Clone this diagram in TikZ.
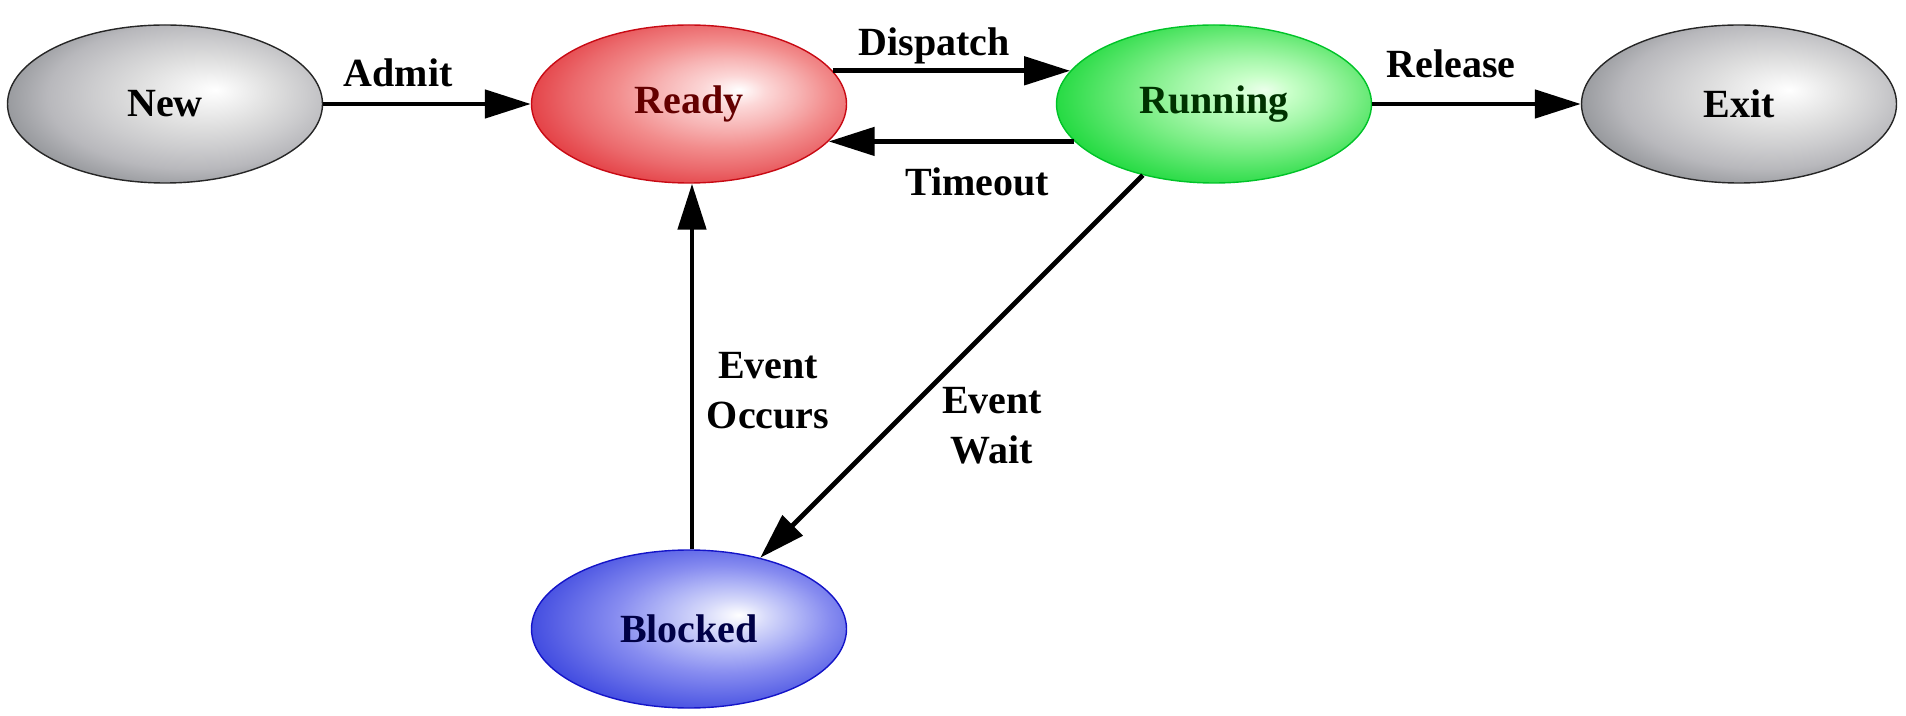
\documentclass[tikz,border=0pt]{standalone}
\usepackage{fontspec}
\setmainfont{Liberation Serif}
\usetikzlibrary{arrows.meta,shapes.geometric}

% Farben
\definecolor{gryA}{RGB}{240,240,240}
\definecolor{gryB}{RGB}{222,222,222}
\definecolor{gryC}{RGB}{204,204,206}
\definecolor{gryD}{RGB}{184,184,188}
\definecolor{gryE}{RGB}{150,152,156}
\definecolor{gryF}{RGB}{106,110,114}
\definecolor{redA}{RGB}{252,215,215}
\definecolor{redB}{RGB}{247,180,180}
\definecolor{redC}{RGB}{242,140,140}
\definecolor{redD}{RGB}{235,105,108}
\definecolor{redE}{RGB}{228,65,70}
\definecolor{redF}{RGB}{220,35,45}
\definecolor{grnO}{RGB}{235,255,235}
\definecolor{grnA}{RGB}{200,255,200}
\definecolor{grnB}{RGB}{165,247,170}
\definecolor{grnC}{RGB}{125,238,135}
\definecolor{grnD}{RGB}{80,228,100}
\definecolor{grnE}{RGB}{35,218,65}
\definecolor{grnF}{RGB}{15,210,50}
\definecolor{bluA}{RGB}{215,218,250}
\definecolor{bluB}{RGB}{175,180,246}
\definecolor{bluC}{RGB}{135,140,240}
\definecolor{bluD}{RGB}{100,108,232}
\definecolor{bluE}{RGB}{65,75,224}
\definecolor{bluF}{RGB}{40,50,215}
\definecolor{redline}{RGB}{200,10,20}
\definecolor{grnline}{RGB}{0,195,40}
\definecolor{bluline}{RGB}{20,20,200}
\definecolor{redtext}{RGB}{100,0,0}
\definecolor{grntext}{RGB}{0,50,0}
\definecolor{blutext}{RGB}{0,0,70}

\pgfdeclareradialshading{greyglow}{\pgfpoint{8bp}{4.5bp}}{color(0bp)=(white); color(5bp)=(gryA); color(11bp)=(gryB); color(17bp)=(gryC); color(23bp)=(gryD); color(29bp)=(gryE); color(34bp)=(gryF); color(50bp)=(gryF)}
\pgfdeclareradialshading{redglow}{\pgfpoint{8bp}{4.5bp}}{color(0bp)=(white); color(5bp)=(redA); color(11bp)=(redB); color(17bp)=(redC); color(23bp)=(redD); color(29bp)=(redE); color(34bp)=(redF); color(50bp)=(redF)}
\pgfdeclareradialshading{greenglow}{\pgfpoint{8bp}{4.5bp}}{color(0bp)=(grnO); color(5bp)=(grnA); color(11bp)=(grnB); color(17bp)=(grnC); color(23bp)=(grnD); color(29bp)=(grnE); color(34bp)=(grnF); color(50bp)=(grnF)}
\pgfdeclareradialshading{blueglow}{\pgfpoint{8bp}{4.5bp}}{color(0bp)=(white); color(5bp)=(bluA); color(11bp)=(bluB); color(17bp)=(bluC); color(23bp)=(bluD); color(29bp)=(bluE); color(34bp)=(bluF); color(50bp)=(bluF)}

\begin{document}
\begin{tikzpicture}[x=0.5pt,y=-0.5pt,
	state/.style={ellipse, draw, line width=0.7pt, minimum width=157.5pt, minimum height=79pt,
		inner sep=0pt, font=\fontsize{20}{25}\selectfont\bfseries},
	arr/.style={line width=2.4pt, -{Triangle[length=23pt,width=14pt]}},
	lbl/.style={font=\fontsize{20}{25}\selectfont\bfseries, align=center, text depth=0pt, inner sep=0pt}]
		\useasboundingbox (0,0) rectangle (1906,716);
		
		% Zustände
		\node[state, shading=greyglow, draw=black!85] (New) at (165,104) {New};
		\node[state, shading=redglow, draw=redline, text=redtext] (Ready) at (689,104) {Ready};
		\node[state, shading=greenglow, draw=grnline, text=grntext] (Running) at (1214,104) {Running};
		\node[state, shading=greyglow, draw=black!85] (Exit) at (1739,104) {Exit};
		\node[state, shading=blueglow, draw=bluline, text=blutext] (Blocked) at (689,629) {Blocked};
		
		% Pfeile
		\draw[arr] (New) -- (Ready);
		\draw[arr] (Ready.13) -- (Running.167);
		\draw[arr] (Running.195) -- (Ready.-15);
		\draw[arr] (Running) -- (Exit);
		\draw[arr] (Running.225) -- (Blocked.45);
		\draw[arr] ([xshift=1.5pt]Blocked.north) -- ([xshift=1.5pt]Ready.south);
		
		% Texte
		\node[lbl] (admit) at (398,73) {Admit};
		\node[lbl] (dispatch) at (934,42) {Dispatch};
		\node[lbl] (timeout) at (977,182) {Timeout};
		\node[lbl] (release) at (1451,64) {Release};
		\node[lbl] (occurs) at (768,390) {Event\\Occurs};
		\node[lbl] (wait) at (992,425) {Event\\Wait};
	\end{tikzpicture}
\end{document}
